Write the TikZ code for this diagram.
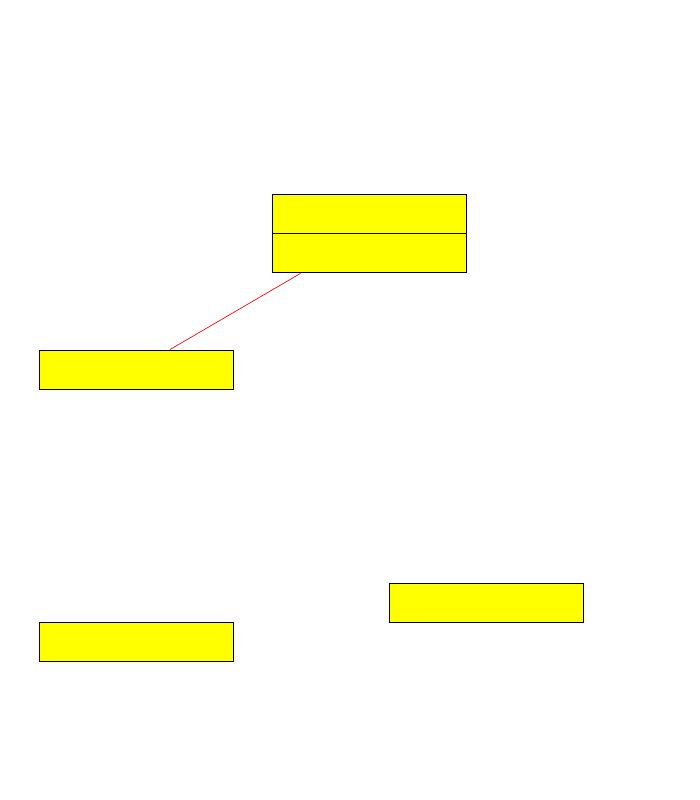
\documentclass[tikz,border=0pt]{standalone}
\usepackage{tikz}
\usetikzlibrary{positioning}
\definecolor{boxyellow}{RGB}{255,255,0}
\definecolor{linkred}{RGB}{255,0,0}

\begin{document}
\begin{tikzpicture}[x=0.75pt, y=-0.75pt]
\tikzstyle{classbox} = [draw=black, fill=boxyellow, line width=0.7pt,
  minimum width=145.5pt, minimum height=29.25pt, inner sep=0pt]
\tikzstyle{link} = [draw=linkred, line width=0.5pt]

\useasboundingbox (0,0) rectangle (700,800);

\node[classbox] (head) at (369,213.5) {};
\node[classbox,below=0pt of head] (body) {};
\node[classbox] (left) at (136,369.5) {};
\node[classbox] (right) at (486,602.5) {};
\node[classbox] (bottom) at (136,641.5) {};

\draw[link] ([xshift=21.75pt]body.south west) -- ([xshift=25.5pt]left.north);
\end{tikzpicture}
\end{document}
